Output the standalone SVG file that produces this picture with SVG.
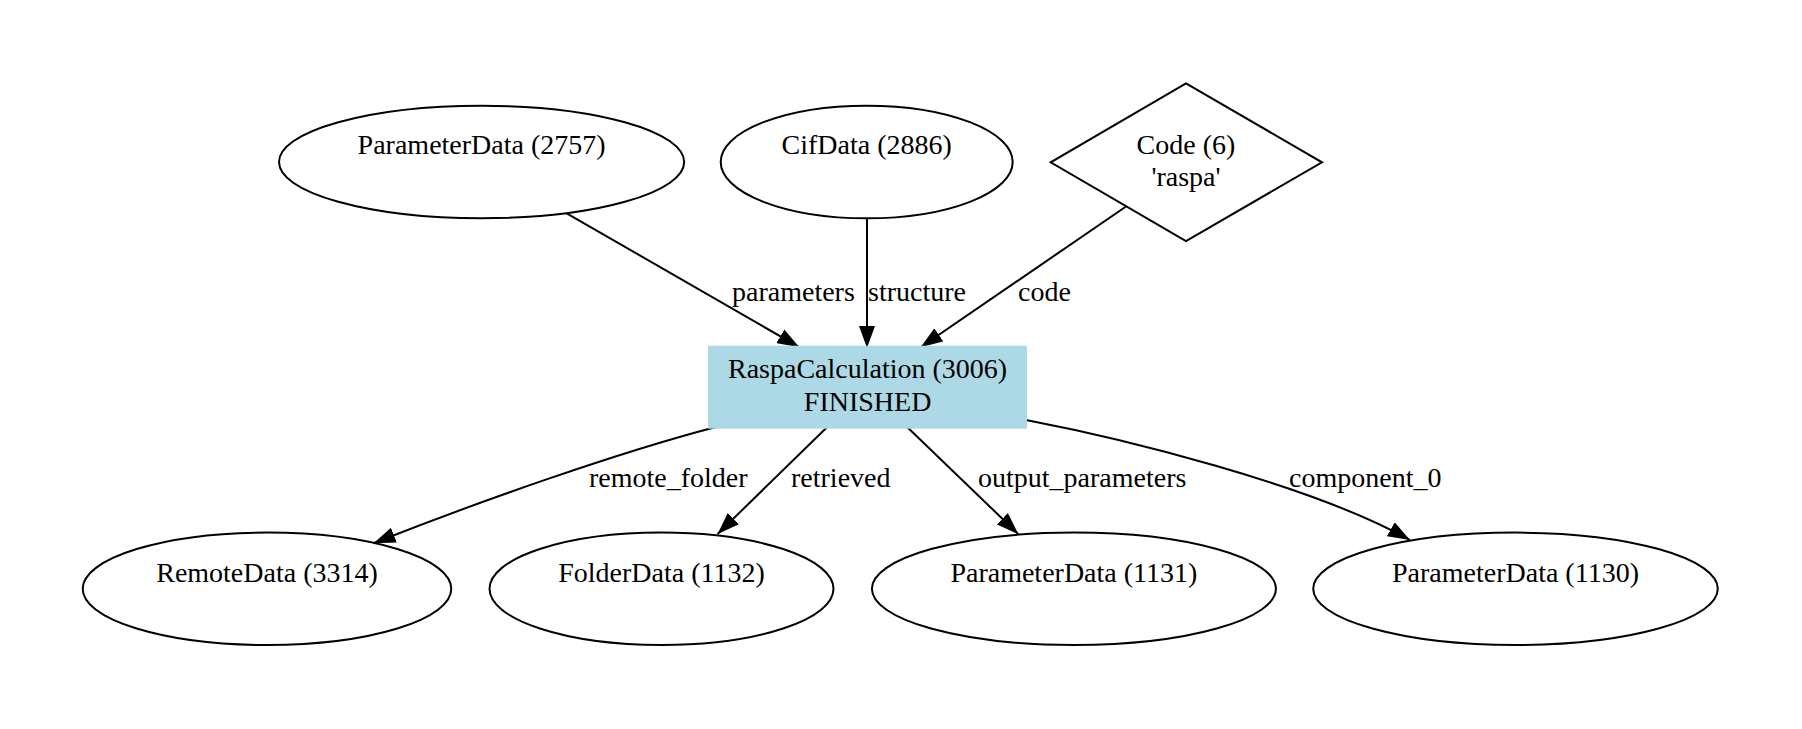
<svg xmlns="http://www.w3.org/2000/svg" width="1802" height="729" viewBox="0 0 1802 729">
<style>
text{font-family:"Liberation Serif","Times New Roman",serif;font-size:28px;fill:#000}
.n{text-anchor:middle}
.shape{fill:none;stroke:#000;stroke-width:2}
.edge{fill:none;stroke:#000;stroke-width:2}
</style>
<defs>
<marker id="arr" markerUnits="userSpaceOnUse" viewBox="0 0 22 16" refX="22" refY="8" markerWidth="22" markerHeight="16" orient="auto">
<path d="M0,0 L22,8 L0,16 z" fill="#000"/>
</marker>
</defs>
<rect width="1802" height="729" fill="#fff"/>
<g id="connectors">
<path class="edge" d="M566.7,213.3 L799.4,347.3" marker-end="url(#arr)"/>
<path class="edge" d="M867,218 L867,348" marker-end="url(#arr)"/>
<path class="edge" d="M1125.7,206.7 L920.7,347.3" marker-end="url(#arr)"/>
<path class="edge" d="M716,427 C620,452 480,501 373.5,543.3" marker-end="url(#arr)"/>
<path class="edge" d="M827,427.3 L717.6,534" marker-end="url(#arr)"/>
<path class="edge" d="M907.4,427.3 L1018.2,534" marker-end="url(#arr)"/>
<path class="edge" d="M1026,420 C1120,438 1310,484 1410,540" marker-end="url(#arr)"/>
<text x="732" y="301">parameters</text>
<text x="868" y="301">structure</text>
<text x="1018" y="301">code</text>
<text x="589" y="487">remote_folder</text>
<text x="791" y="487">retrieved</text>
<text x="978" y="487">output_parameters</text>
<text x="1289" y="487">component_0</text>
</g>
<g id="node_param2757">
<ellipse class="shape" cx="481.6" cy="162" rx="202.6" ry="56.3"/>
<text class="n" x="481.6" y="154">ParameterData (2757)</text>
</g>
<g id="node_cif2886">
<ellipse class="shape" cx="866.7" cy="162" rx="146" ry="56.3"/>
<text class="n" x="866.7" y="154">CifData (2886)</text>
</g>
<g id="node_code6">
<polygon class="shape" points="1186,83.3 1322,162.3 1186,241 1050.7,162.3"/>
<text class="n" x="1186" y="153.5">Code (6)</text>
<text class="n" x="1186" y="185.5">'raspa'</text>
</g>
<g id="node_calc3006">
<rect x="709" y="346.7" width="317" height="81" fill="#add8e6" stroke="#add8e6" stroke-width="2"/>
<text class="n" x="867.6" y="377.7">RaspaCalculation (3006)</text>
<text class="n" x="867.6" y="411">FINISHED</text>
</g>
<g id="node_remote3314">
<ellipse class="shape" cx="267" cy="588.8" rx="184.3" ry="56.2"/>
<text class="n" x="267" y="582">RemoteData (3314)</text>
</g>
<g id="node_folder1132">
<ellipse class="shape" cx="661.5" cy="588.8" rx="172" ry="56.2"/>
<text class="n" x="661.5" y="582">FolderData (1132)</text>
</g>
<g id="node_param1131">
<ellipse class="shape" cx="1073.9" cy="588.8" rx="202" ry="56.2"/>
<text class="n" x="1073.9" y="582">ParameterData (1131)</text>
</g>
<g id="node_param1130">
<ellipse class="shape" cx="1515.5" cy="588.8" rx="202.3" ry="56.2"/>
<text class="n" x="1515.5" y="582">ParameterData (1130)</text>
</g>
</svg>
